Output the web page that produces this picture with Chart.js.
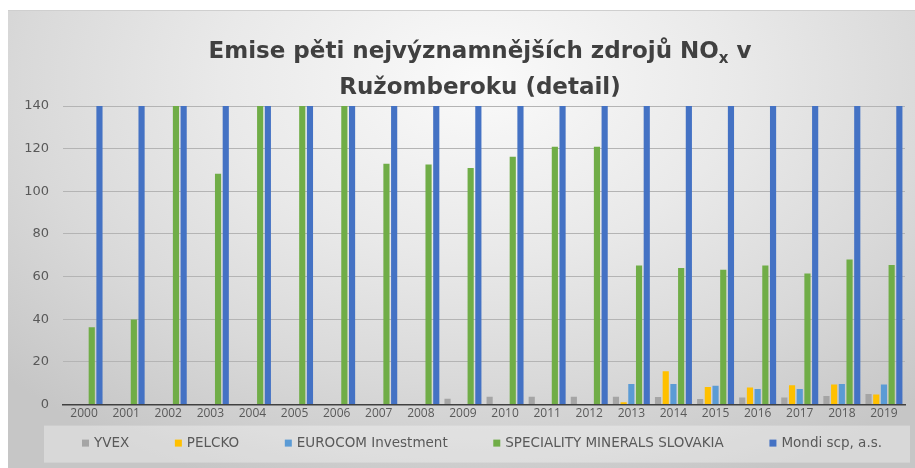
<!DOCTYPE html>
<html>
<head>
<meta charset="utf-8">
<script src="https://cdn.jsdelivr.net/npm/chart.js@4.4.1/dist/chart.umd.min.js"></script>
<style>
  html, body { margin: 0; padding: 0; background: #fff; }
  #wrap {
    position: absolute; left: 8px; top: 10px; width: 907px; height: 458px;
    border-top: 1px solid #cfcfcf;
    box-sizing: border-box;
    background: radial-gradient(ellipse 72% 95% at 52% 15%, #fafafa 0%, #e9e9e9 40%, #d9d9d9 70%, #c6c6c6 100%);
  }
</style>
</head>
<body>
<div id="wrap"><canvas id="c"></canvas></div>
<script>
// years on the x axis
const years = ["2000","2001","2002","2003","2004","2005","2006","2007","2008","2009",
  "2010","2011","2012","2013","2014","2015","2016","2017","2018","2019"];

// emissions NOx (t/yr), values above 140 are cut off in the original
const yvex = [null,null,null,null,null,null,null,null,null,2.8,
  3.7,3.7,3.7,3.7,3.6,2.6,3.3,3.3,4.0,5.0];
const pelcko = [null,null,null,null,null,null,null,null,null,null,
  null,null,null,1.1,15.6,8.3,8.0,9.1,9.4,4.7];
const eurocom = [null,null,null,null,null,null,null,null,null,null,
  null,null,null,9.7,9.7,8.8,7.3,7.3,9.7,9.4];
const speciality = [36.3,39.9,150,108.2,146,148,143,112.9,112.6,110.9,
  116.2,120.9,120.9,65.2,64.1,63.2,65.2,61.5,68.0,65.5];
const mondi = [1480,1420,1390,1350,1310,1290,1260,1240,1200,1150,
  1120,1100,1080,1050,1020,990,970,950,930,910];

const seriesNames = ["YVEX","PELCKO","EUROCOM Investment","SPECIALITY MINERALS SLOVAKIA","Mondi scp, a.s."];
const seriesColors = ["#a5a5a5","#ffc000","#5b9bd5","#70ad47","#4472c4"];
const seriesData = [yvex, pelcko, eurocom, speciality, mondi];

const yTicks = [0,20,40,60,80,100,120,140];

// title with a real subscript x in NOx (original chart is wider, so title centre sits right of middle)
const titleParts = ["Emise pěti nejvýznamnějších zdrojů NO", "x", " v"];
const titleLine2 = "Ružomberoku (detail)";

const subTitle = {
  id: "subTitle",
  afterDraw(chart) {
    const ctx = chart.ctx;
    const cx = 472;
    const big = "bold 23px 'DejaVu Sans', sans-serif";
    const small = "bold 15px 'DejaVu Sans', sans-serif";
    ctx.save();
    ctx.fillStyle = "#404040";
    ctx.textBaseline = "alphabetic";
    ctx.textAlign = "left";
    ctx.font = big;
    const w0 = ctx.measureText(titleParts[0]).width;
    const w2 = ctx.measureText(titleParts[2]).width;
    ctx.font = small;
    const w1 = ctx.measureText(titleParts[1]).width;
    let x = cx - (w0 + w1 + w2) / 2;
    const y1 = 47;
    ctx.font = big;
    ctx.fillText(titleParts[0], x, y1);
    x += w0;
    ctx.font = small;
    ctx.fillText(titleParts[1], x, y1 + 5);
    x += w1;
    ctx.font = big;
    ctx.fillText(titleParts[2], x, y1);
    ctx.textAlign = "center";
    ctx.fillText(titleLine2, cx, y1 + 36);
    ctx.restore();
  }
};

// legend drawn by hand so the items can sit far apart on one short row
const bottomLegend = {
  id: "bottomLegend",
  afterDraw(chart) {
    const ctx = chart.ctx;
    const top = chart.chartArea.bottom + 21;
    const h = 37;
    ctx.save();
    ctx.fillStyle = "rgba(255,255,255,0.32)";
    ctx.fillRect(36, top, 866, h);
    ctx.font = "13.5px 'DejaVu Sans', sans-serif";
    ctx.textBaseline = "middle";
    const ds = chart.data.datasets;
    const widths = ds.map((d) => ctx.measureText(d.label).width + 12);
    const x0 = 74, x1 = 874;
    const gap = (x1 - x0 - widths.reduce((a, b) => a + b, 0)) / (ds.length - 1);
    let x = x0;
    const cy = top + h / 2 - 1;
    ds.forEach((d, i) => {
      ctx.fillStyle = d.backgroundColor;
      ctx.fillRect(x, cy - 3.5, 7, 7);
      ctx.fillStyle = "#595959";
      ctx.fillText(d.label, x + 12, cy);
      x += widths[i] + gap;
    });
    ctx.restore();
  }
};

new Chart(document.getElementById("c"), {
  type: "bar",
  data: {
    labels: years,
    datasets: seriesNames.map((name, i) => ({
      label: name,
      data: seriesData[i],
      backgroundColor: seriesColors[i],
      borderWidth: 0,
      categoryPercentage: 0.915,
      barPercentage: 0.8,
    })),
  },
  options: {
    responsive: true,
    maintainAspectRatio: false,
    animation: false,
    layout: { padding: { top: 95, right: 10, bottom: 45, left: 0 } },
    plugins: {
      title: { display: false },
      legend: { display: false },
      tooltip: { enabled: false },
    },
    scales: {
      x: {
        grid: { display: false, drawTicks: false },
        border: { display: true, color: "#404040", width: 1.5 },
        ticks: {
          color: "#595959",
          font: { family: "'Open Sans', sans-serif", size: 12 },
          padding: 2,
          maxRotation: 0,
          autoSkip: false,
        },
      },
      y: {
        min: 0,
        max: 140,
        afterFit: (s) => { s.width = 55; },
        afterBuildTicks: (s) => { s.ticks = yTicks.map((v) => ({ value: v })); },
        grid: { color: "#b4b4b4", drawTicks: false },
        border: { display: false },
        ticks: {
          color: "#595959",
          font: { family: "'DejaVu Sans', sans-serif", size: 13 },
          padding: 14,
        },
      },
    },
  },
  plugins: [subTitle, bottomLegend],
});
</script>
</body>
</html>
